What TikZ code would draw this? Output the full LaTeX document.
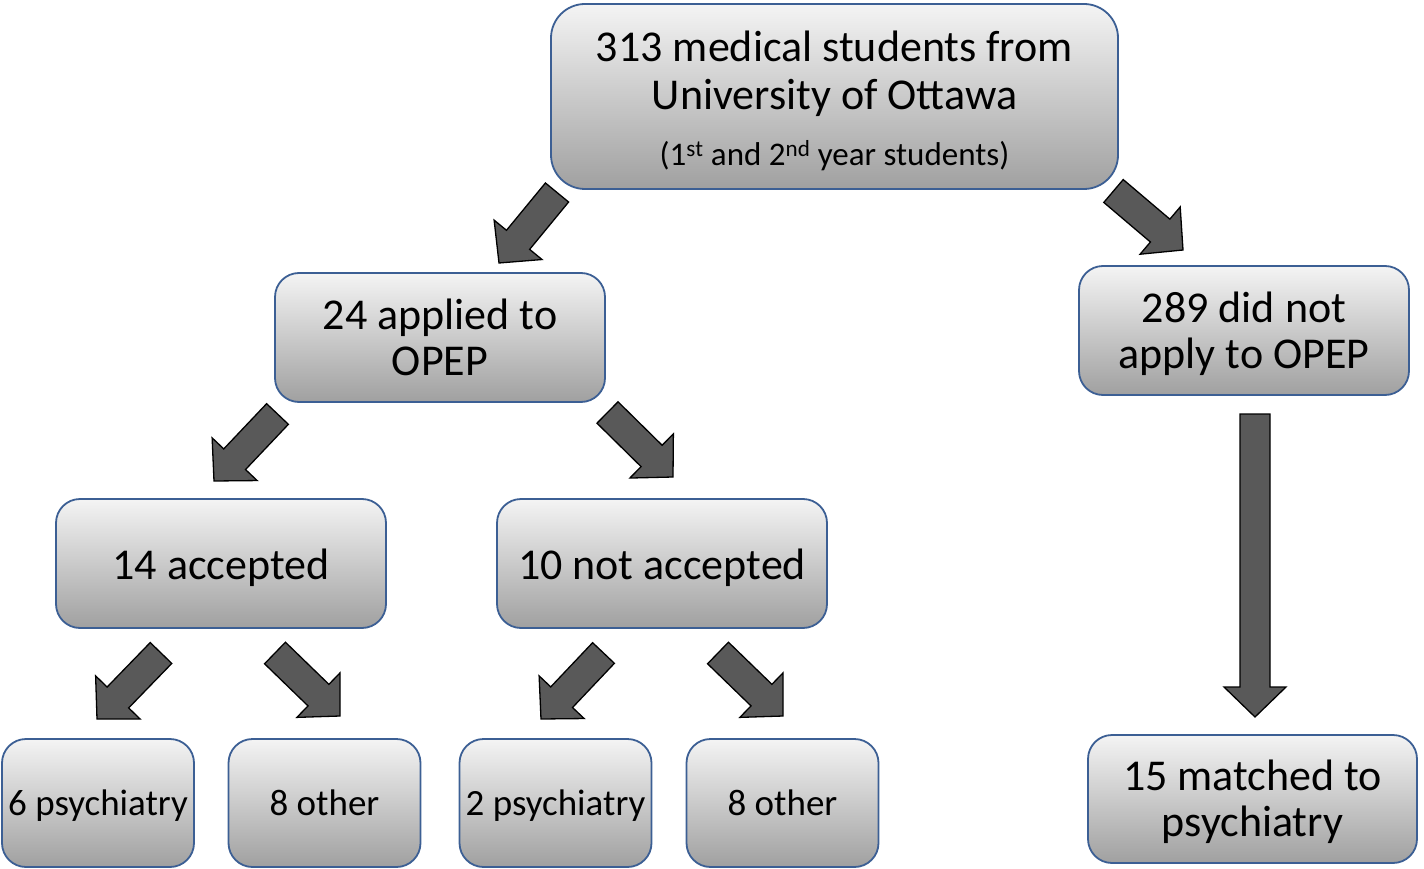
\documentclass[tikz,border=0pt]{standalone}
\usepackage{fontspec}
\setmainfont{Carlito}
\usetikzlibrary{calc}
\definecolor{boxedge}{RGB}{60,95,148}
\definecolor{arrowfill}{RGB}{89,89,89}
\definecolor{gtop}{RGB}{244,244,244}
\definecolor{gbot}{RGB}{160,160,160}
\tikzset{
  box/.style={draw=boxedge, line width=1.8pt, rounded corners=24pt,
    top color=gtop, bottom color=gbot, align=center, inner sep=0pt,
    minimum width=330pt, minimum height=129pt,
    text height=31pt, text depth=0pt,
    font=\fontsize{44}{46}\selectfont},
  twoline/.style={text height=75pt, text depth=0pt},
  smallbox/.style={box, minimum width=192pt, minimum height=128pt,
    text height=24pt, text depth=0pt,
    font=\fontsize{37}{42}\selectfont},
  blockarrow/.style={fill=arrowfill, draw=black, line width=1.3pt, line join=miter},
}
\newcommand\blockarr[2]{%
  \coordinate (#1h) at ($(#2)!30pt!(#1)$);
  \draw[blockarrow]
    ($(#1)!15pt!90:(#2)$) -- ($(#1h)!15pt!-90:(#1)$) --
    ($(#1h)!31pt!-90:(#1)$) -- (#2) --
    ($(#1h)!31pt!90:(#1)$) -- ($(#1h)!15pt!90:(#1)$) --
    ($(#1)!15pt!-90:(#2)$) -- cycle;}
\begin{document}
\begin{tikzpicture}[x=1pt,y=-1pt]
\useasboundingbox (0,0) rectangle (1424,869);
\node[box, minimum width=567pt, minimum height=185pt, rounded corners=34pt,
      text height=139pt, text depth=0pt, font=\fontsize{44}{48}\selectfont] (top) at (834.5,96.5)
  {313 medical students from\\ University of Ottawa\\[8pt]
   {\fontsize{33}{36}\selectfont (1\textsuperscript{st} and 2\textsuperscript{nd} year students)}};
\node[box, twoline] (applied) at (440,337.5) {24 applied to\\OPEP};
\node[box, twoline] (notapplied) at (1244,330.5) {289 did not\\apply to OPEP};
\node[box] (acc) at (221,563.5) {14 accepted};
\node[box] (nacc) at (662,563.5) {10 not accepted};
\node[smallbox] (p1) at (98,803) {6 psychiatry};
\node[smallbox] (o1) at (324.5,803) {8 other};
\node[smallbox] (p2) at (555.5,803) {2 psychiatry};
\node[smallbox] (o2) at (782.5,803) {8 other};
\node[box, twoline, minimum width=329pt, minimum height=128pt] (match) at (1252.5,799) {15 matched to\\psychiatry};

\coordinate (t1) at (557,192.5);   \coordinate (h1) at (499,263);
\coordinate (t2) at (1113.5,191);  \coordinate (h2) at (1183,250);
\coordinate (t3) at (277.5,414);   \coordinate (h3) at (214,481);
\coordinate (t4) at (607.5,412.5); \coordinate (h4) at (673,477);
\coordinate (t5) at (161,653);     \coordinate (h5) at (97,719);
\coordinate (t6) at (275,653);     \coordinate (h6) at (340,716);
\coordinate (t7) at (603.5,653);   \coordinate (h7) at (541,719);
\coordinate (t8) at (718,653);     \coordinate (h8) at (783,716);
\coordinate (t9) at (1255,414);    \coordinate (h9) at (1255,717);
\blockarr{t1}{h1}
\blockarr{t2}{h2}
\blockarr{t3}{h3}
\blockarr{t4}{h4}
\blockarr{t5}{h5}
\blockarr{t6}{h6}
\blockarr{t7}{h7}
\blockarr{t8}{h8}
\blockarr{t9}{h9}
\end{tikzpicture}
\end{document}
